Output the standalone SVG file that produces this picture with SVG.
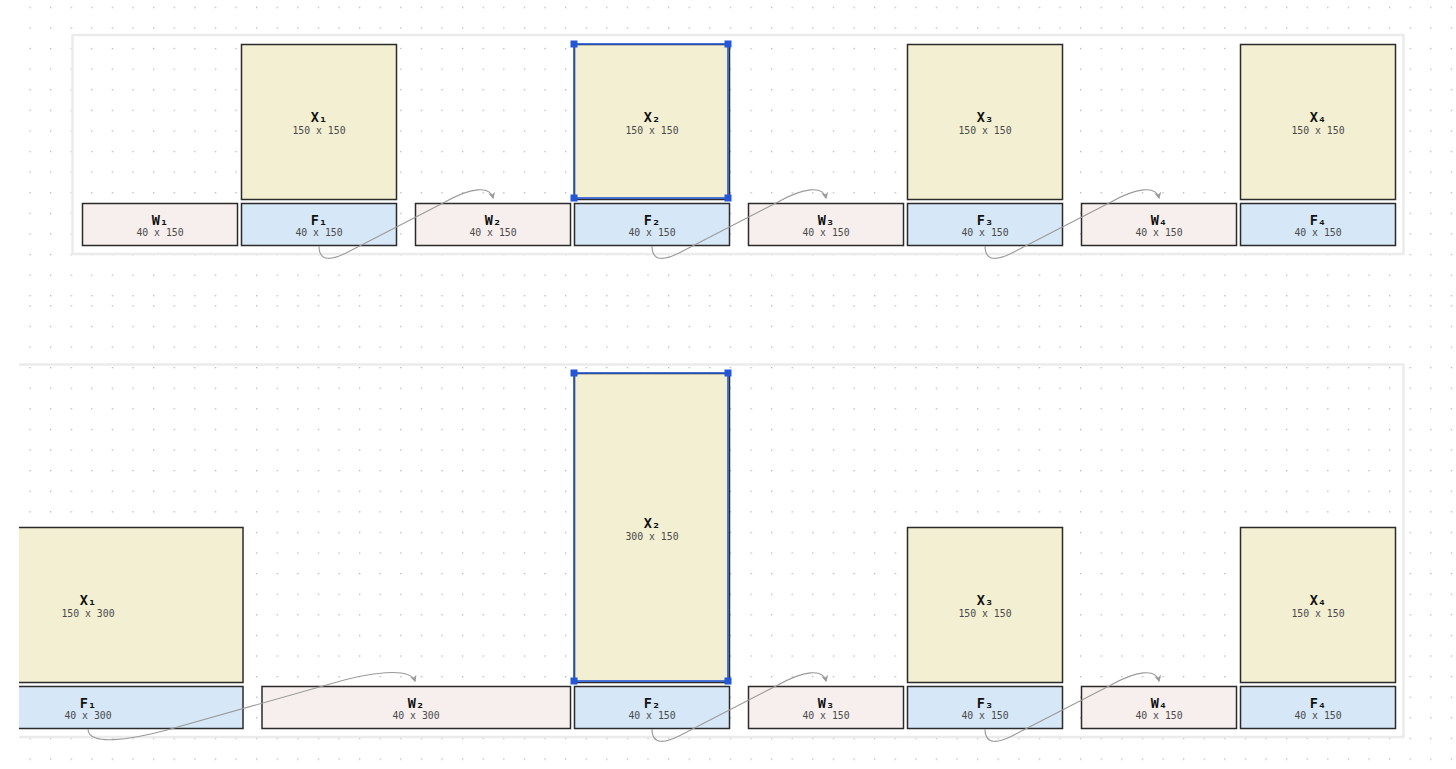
<svg xmlns="http://www.w3.org/2000/svg" width="1456" height="769" viewBox="0 0 1456 769">
<defs>
<pattern id="dotsTop" patternUnits="userSpaceOnUse" x="29.4" y="6.7" width="20.6" height="20.6"><rect x="0" y="0" width="1.3" height="1.3" fill="#b4b4b4"/></pattern>
<pattern id="dotsBot" patternUnits="userSpaceOnUse" x="29.4" y="346.4" width="20.6" height="20.6"><rect x="0" y="0" width="1.3" height="1.3" fill="#b4b4b4"/></pattern>
<marker id="arr" viewBox="0 0 10 10" refX="8" refY="5" markerWidth="7" markerHeight="7" orient="auto" markerUnits="userSpaceOnUse"><path d="M0,0 L10,5 L0,10 L3,5 z" fill="#9a9a9a"/></marker>
<clipPath id="clipBot"><rect x="19" y="300" width="1437" height="469"/></clipPath>
<style>
.frame{fill:none;stroke:#ebebeb;stroke-width:2.5}
.x{fill:#f3efd2;stroke:#2b2b2b;stroke-width:1.5}
.w{fill:#f7efed;stroke:#2b2b2b;stroke-width:1.5}
.f{fill:#d6e7f7;stroke:#2b2b2b;stroke-width:1.5}
.lbl{font-family:"DejaVu Sans Mono","Liberation Mono",monospace;font-size:13.5px;font-weight:bold;fill:#111;text-anchor:middle}
.sub{font-family:"DejaVu Sans Mono","Liberation Mono",monospace;font-size:9.8px;fill:#4a4a4a;text-anchor:middle}
.con{fill:none;stroke:#9a9a9a;stroke-width:1.1;marker-end:url(#arr)}
.sel{fill:none;stroke:#2457d6;stroke-width:1.6}
.hdl{fill:#2457d6}
</style>
</defs>
<rect width="1456" height="769" fill="#ffffff"/>
<rect x="25" y="0" width="1431" height="300" fill="url(#dotsTop)"/>
<rect x="25" y="300" width="1431" height="469" fill="url(#dotsBot)"/>

<!-- Top section -->
<g id="top-frame"><rect class="frame" x="72.5" y="35" width="1331" height="219"/></g>

<g id="top-W1"><rect class="w" x="82.5" y="203.5" width="155" height="42"/><text class="lbl" x="160" y="224.5">W₁</text><text class="sub" x="160" y="236">40 x 150</text></g>
<g id="top-X1"><rect class="x" x="241.5" y="44.5" width="155" height="155"/><text class="lbl" x="319" y="122">X₁</text><text class="sub" x="319" y="133.5">150 x 150</text></g>
<g id="top-F1"><rect class="f" x="241.5" y="203.5" width="155" height="42"/><text class="lbl" x="319" y="224.5">F₁</text><text class="sub" x="319" y="236">40 x 150</text></g>

<g id="top-W2"><rect class="w" x="415.5" y="203.5" width="155" height="42"/><text class="lbl" x="493" y="224.5">W₂</text><text class="sub" x="493" y="236">40 x 150</text></g>
<g id="top-X2"><rect class="x" x="574.5" y="44.5" width="155" height="155"/><text class="lbl" x="652" y="122">X₂</text><text class="sub" x="652" y="133.5">150 x 150</text>
<rect class="sel" x="574" y="44" width="154" height="154"/>
<rect class="hdl" x="570.5" y="40.5" width="7" height="7"/><rect class="hdl" x="724.5" y="40.5" width="7" height="7"/><rect class="hdl" x="570.5" y="194.5" width="7" height="7"/><rect class="hdl" x="724.5" y="194.5" width="7" height="7"/></g>
<g id="top-F2"><rect class="f" x="574.5" y="203.5" width="155" height="42"/><text class="lbl" x="652" y="224.5">F₂</text><text class="sub" x="652" y="236">40 x 150</text></g>

<g id="top-W3"><rect class="w" x="748.5" y="203.5" width="155" height="42"/><text class="lbl" x="826" y="224.5">W₃</text><text class="sub" x="826" y="236">40 x 150</text></g>
<g id="top-X3"><rect class="x" x="907.5" y="44.5" width="155" height="155"/><text class="lbl" x="985" y="122">X₃</text><text class="sub" x="985" y="133.5">150 x 150</text></g>
<g id="top-F3"><rect class="f" x="907.5" y="203.5" width="155" height="42"/><text class="lbl" x="985" y="224.5">F₃</text><text class="sub" x="985" y="236">40 x 150</text></g>

<g id="top-W4"><rect class="w" x="1081.5" y="203.5" width="155" height="42"/><text class="lbl" x="1159" y="224.5">W₄</text><text class="sub" x="1159" y="236">40 x 150</text></g>
<g id="top-X4"><rect class="x" x="1240.5" y="44.5" width="155" height="155"/><text class="lbl" x="1318" y="122">X₄</text><text class="sub" x="1318" y="133.5">150 x 150</text></g>
<g id="top-F4"><rect class="f" x="1240.5" y="203.5" width="155" height="42"/><text class="lbl" x="1318" y="224.5">F₄</text><text class="sub" x="1318" y="236">40 x 150</text></g>

<g id="top-connectors">
<path class="con" d="M319,246 C319,263 333,259.5 346,253 L445,202 C470,188 490,185 493,198"/>
<path class="con" d="M652,246 C652,263 666,259.5 679,253 L778,202 C803,188 823,185 826,198"/>
<path class="con" d="M985,246 C985,263 999,259.5 1012,253 L1111,202 C1136,188 1156,185 1159,198"/>
</g>

<!-- Bottom section -->
<g clip-path="url(#clipBot)">
<g id="bot-frame"><rect class="frame" x="10" y="364.5" width="1393.5" height="372.5"/></g>

<g id="bot-X1"><rect class="x" x="-67" y="527.5" width="310" height="155"/><text class="lbl" x="88" y="605">X₁</text><text class="sub" x="88" y="616.5">150 x 300</text></g>
<g id="bot-F1"><rect class="f" x="-67" y="686.5" width="310" height="42"/><text class="lbl" x="88" y="707.5">F₁</text><text class="sub" x="88" y="719">40 x 300</text></g>

<g id="bot-W2"><rect class="w" x="262" y="686.5" width="308.5" height="42"/><text class="lbl" x="416" y="707.5">W₂</text><text class="sub" x="416" y="719">40 x 300</text></g>
<g id="bot-X2"><rect class="x" x="574.5" y="373.5" width="155" height="309"/><text class="lbl" x="652" y="528">X₂</text><text class="sub" x="652" y="539.5">300 x 150</text>
<rect class="sel" x="574" y="373" width="154" height="308"/>
<rect class="hdl" x="570.5" y="369.5" width="7" height="7"/><rect class="hdl" x="724.5" y="369.5" width="7" height="7"/><rect class="hdl" x="570.5" y="677.5" width="7" height="7"/><rect class="hdl" x="724.5" y="677.5" width="7" height="7"/></g>
<g id="bot-F2"><rect class="f" x="574.5" y="686.5" width="155" height="42"/><text class="lbl" x="652" y="707.5">F₂</text><text class="sub" x="652" y="719">40 x 150</text></g>

<g id="bot-W3"><rect class="w" x="748.5" y="686.5" width="155" height="42"/><text class="lbl" x="826" y="707.5">W₃</text><text class="sub" x="826" y="719">40 x 150</text></g>
<g id="bot-X3"><rect class="x" x="907.5" y="527.5" width="155" height="155"/><text class="lbl" x="985" y="605">X₃</text><text class="sub" x="985" y="616.5">150 x 150</text></g>
<g id="bot-F3"><rect class="f" x="907.5" y="686.5" width="155" height="42"/><text class="lbl" x="985" y="707.5">F₃</text><text class="sub" x="985" y="719">40 x 150</text></g>

<g id="bot-W4"><rect class="w" x="1081.5" y="686.5" width="155" height="42"/><text class="lbl" x="1159" y="707.5">W₄</text><text class="sub" x="1159" y="719">40 x 150</text></g>
<g id="bot-X4"><rect class="x" x="1240.5" y="527.5" width="155" height="155"/><text class="lbl" x="1318" y="605">X₄</text><text class="sub" x="1318" y="616.5">150 x 150</text></g>
<g id="bot-F4"><rect class="f" x="1240.5" y="686.5" width="155" height="42"/><text class="lbl" x="1318" y="707.5">F₄</text><text class="sub" x="1318" y="719">40 x 150</text></g>

<g id="bot-connectors">
<path class="con" d="M88,729 C88,746 130,740 167,730 L330,684 C370,672 410,667 415,681"/>
<path class="con" d="M652,729 C652,746 666,742.5 679,736 L778,685 C803,671 823,668 826,681"/>
<path class="con" d="M985,729 C985,746 999,742.5 1012,736 L1111,685 C1136,671 1156,668 1159,681"/>
</g>
</g>
</svg>
